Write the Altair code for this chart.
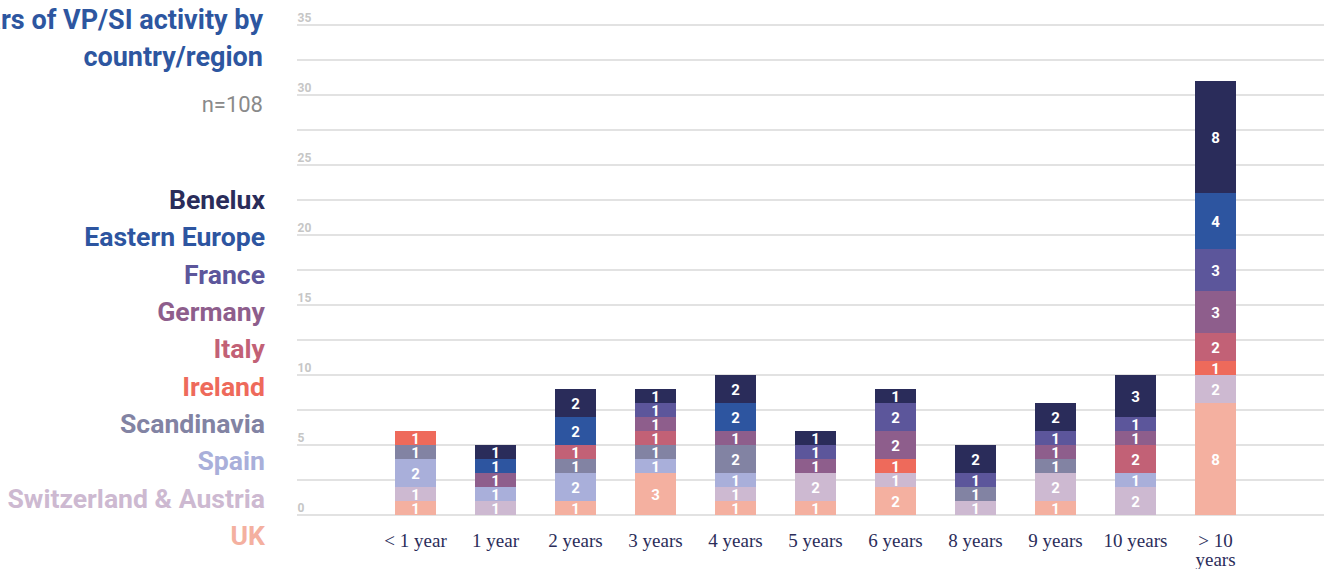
import altair as alt
import pandas as pd

# Categories on the x axis
years = ["< 1 year", "1 year", "2 years", "3 years", "4 years", "5 years",
         "6 years", "8 years", "9 years", "10 years", "> 10 years"]

# Regions in stacking order (bottom to top)
regions = ["UK", "Switzerland & Austria", "Spain", "Scandinavia", "Ireland",
           "Italy", "Germany", "France", "Eastern Europe", "Benelux"]
colors = ["#F4B0A0", "#CDB9D1", "#A9AFDA", "#8283A3", "#EE6A5B",
          "#C26176", "#8E5E8C", "#5C569B", "#2D55A0", "#2A2C5A"]

# Respondents per region for each duration
uk = [1, 0, 1, 3, 1, 1, 2, 0, 1, 0, 8]
swiss_austria = [1, 1, 0, 0, 1, 2, 1, 1, 2, 2, 2]
spain = [2, 1, 2, 1, 1, 0, 0, 0, 0, 1, 0]
scandinavia = [1, 0, 1, 1, 2, 0, 0, 1, 1, 0, 0]
ireland = [1, 0, 0, 0, 0, 0, 1, 0, 0, 0, 1]
italy = [0, 0, 1, 1, 0, 0, 0, 0, 0, 2, 2]
germany = [0, 1, 0, 1, 1, 1, 2, 0, 1, 1, 3]
france = [0, 0, 0, 1, 0, 1, 2, 1, 1, 1, 3]
eastern_europe = [0, 1, 2, 0, 2, 0, 0, 0, 0, 0, 4]
benelux = [0, 1, 2, 1, 2, 1, 1, 2, 2, 3, 8]

series = [uk, swiss_austria, spain, scandinavia, ireland, italy,
          germany, france, eastern_europe, benelux]

# Horizontal guide lines (labelled every 5)
grid_values = [i * 2.5 for i in range(15)]

title_lines = ["Years of VP/SI activity by", "country/region"]
sample_note = "n=108"

rows = []
for order, (region, values) in enumerate(zip(regions, series)):
    for yr, v in zip(years, values):
        rows.append({"years": yr, "region": region, "count": v, "order": order})
df = pd.DataFrame(rows)

W, H = 1027, 490

color_scale = alt.Scale(domain=regions, range=colors)
y_scale = alt.Scale(domain=[0, 35], nice=False)
x_scale = alt.Scale(range=[98, 939], paddingInner=0.4875, paddingOuter=0)

x_enc = alt.X(
    "years:N", sort=years, title=None, scale=x_scale,
    axis=alt.Axis(
        domain=False, ticks=False, grid=False, labelAngle=0, labelPadding=16,
        labelFont="Liberation Serif", labelFontSize=19, labelColor="#2B2D5A",
        labelLineHeight=19,
        labelExpr="datum.label == '> 10 years' ? ['> 10', 'years'] : datum.label",
    ),
)

y_axis = alt.Axis(
    values=grid_values,
    labelExpr="datum.value % 5 == 0 ? datum.label : ''",
    grid=False, domain=False, ticks=False, tickSize=0,
    labelAlign="left", labelBaseline="alphabetic", labelPadding=0, labelOffset=-4,
    labelFont="Roboto", labelFontWeight="bold", labelFontSize=12,
    labelColor="#C6C6C6", labelOverlap=False, title=None,
)

# Guide lines across the full plot width
grid_rules = alt.Chart(pd.DataFrame({"v": grid_values})).mark_rule(
    color="#D9D9D9", strokeWidth=1.5
).encode(
    y=alt.Y("v:Q", scale=y_scale, axis=None),
    x=alt.value(0), x2=alt.value(W),
)

base = (
    alt.Chart(df)
    .transform_filter("datum.count > 0")
    .transform_stack(stack="count", groupby=["years"], as_=["y0", "y1"],
                     sort=[alt.SortField("order", "ascending")])
    .transform_calculate(mid="(datum.y0 + datum.y1) / 2")
)

bars = base.mark_bar().encode(
    x=x_enc,
    y=alt.Y("y1:Q", scale=y_scale, axis=y_axis),
    y2="y0:Q",
    color=alt.Color("region:N", scale=color_scale, legend=None),
)

values_text = base.mark_text(
    font="Roboto", fontWeight="bold", fontSize=15, color="white", baseline="middle", dy=1
).encode(
    x=alt.X("years:N", sort=years, scale=x_scale),
    y=alt.Y("mid:Q", scale=y_scale, axis=None),
    text="count:Q",
)

legend_order = regions[::-1]
legend_df = pd.DataFrame({"region": legend_order})
legend_text = alt.Chart(legend_df).mark_text(
    align="right", baseline="middle", font="Roboto", fontWeight="bold", fontSize=26.6
).encode(
    x=alt.value(-32),
    y=alt.Y("region:N", sort=legend_order,
            scale=alt.Scale(type="point", range=[176, 512], padding=0), axis=None),
    color=alt.Color("region:N", scale=color_scale, legend=None),
    text="region:N",
)

title_df = pd.DataFrame({"line": title_lines, "row": [0, 1]})
title_text = alt.Chart(title_df).mark_text(
    align="right", baseline="middle", font="Roboto", fontWeight="bold",
    fontSize=27, color="#2D56A0"
).encode(
    x=alt.value(-34),
    y=alt.Y("row:O", scale=alt.Scale(type="point", range=[-4, 33], padding=0), axis=None),
    text="line:N",
)

note_text = alt.Chart(pd.DataFrame({"t": [sample_note]})).mark_text(
    align="right", baseline="middle", font="Roboto", fontSize=22, color="#8A8A8A"
).encode(x=alt.value(-34), y=alt.value(80), text="t:N")

chart = (
    alt.layer(grid_rules, bars, values_text, legend_text, title_text, note_text)
    .resolve_scale(y="independent")
    .properties(
        width=W, height=H,
        background="white",
        autosize=alt.AutoSizeParams(type="none"),
        padding={"left": 297, "top": 25, "right": 8, "bottom": 54},
    )
    .configure_view(stroke=None)
)

chart.save("out.html", embed_options={"renderer": "svg", "actions": False})
